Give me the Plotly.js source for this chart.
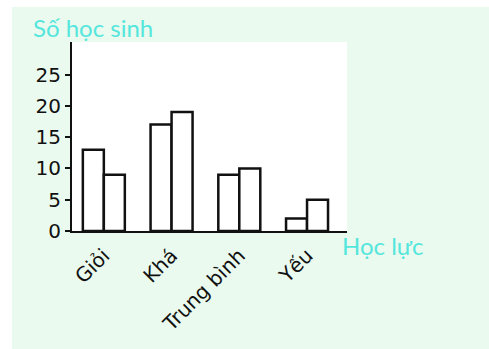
<!DOCTYPE html>
<html>
<head>
<meta charset="utf-8">
<script src="https://cdn.plot.ly/plotly-3.0.1.min.js"></script>
<style>
html,body{margin:0;padding:0;background:#ffffff;}
#chart{position:absolute;left:12px;top:7px;width:477px;height:342px;}
</style>
</head>
<body>
<div id="chart"></div>
<script>
var categories = ["Giỏi", "Khá", "Trung bình", "Yếu"];
var firstBars = [13, 17, 9, 2];
var secondBars = [9, 19, 10, 5];
var yTicks = [0, 5, 10, 15, 20, 25];
var yTitle = "Số học sinh";
var xTitle = "Học lực";

var barStyle = {color: "#ffffff", line: {color: "#111111", width: 2.5}};
var traces = [
  {type: "bar", x: categories, y: firstBars, marker: barStyle, showlegend: false, hoverinfo: "none"},
  {type: "bar", x: categories, y: secondBars, marker: barStyle, showlegend: false, hoverinfo: "none"}
];

var layout = {
  width: 477, height: 342,
  margin: {l: 60, r: 142, t: 35, b: 118, pad: 0},
  paper_bgcolor: "#eafaee",
  plot_bgcolor: "#ffffff",
  barmode: "group",
  bargap: 0.38,
  bargroupgap: 0,
  font: {family: "DejaVu Sans", color: "#111111"},
  xaxis: {
    type: "category",
    range: [-0.47, 3.59],
    showline: true, linecolor: "#111111", linewidth: 2,
    ticks: "outside", ticklen: 3, tickcolor: "rgba(0,0,0,0)", tickangle: -45,
    tickfont: {size: 20, family: "DejaVu Sans", color: "#111111"},
    showgrid: false, zeroline: false, fixedrange: true
  },
  yaxis: {
    range: [0, 30.2],
    tickvals: yTicks,
    showline: true, linecolor: "#111111", linewidth: 2,
    ticks: "outside", ticklen: 5, tickwidth: 2, tickcolor: "#111111",
    tickfont: {size: 20, family: "DejaVu Sans", color: "#111111"},
    showgrid: false, zeroline: false, fixedrange: true
  },
  annotations: [
    {text: yTitle, xref: "paper", yref: "paper", x: -0.15, y: 1.0, xanchor: "left", yanchor: "bottom",
     showarrow: false, yshift: -2, font: {family: "Lato", size: 24, color: "#55e6dd"}},
    {text: xTitle, xref: "paper", yref: "paper", x: 1.0, y: 0, xanchor: "left", yanchor: "middle",
     showarrow: false, xshift: -7, yshift: -14, font: {family: "Lato", size: 24, color: "#55e6dd"}}
  ]
};

Plotly.newPlot("chart", traces, layout, {displayModeBar: false, staticPlot: true});
</script>
</body>
</html>
